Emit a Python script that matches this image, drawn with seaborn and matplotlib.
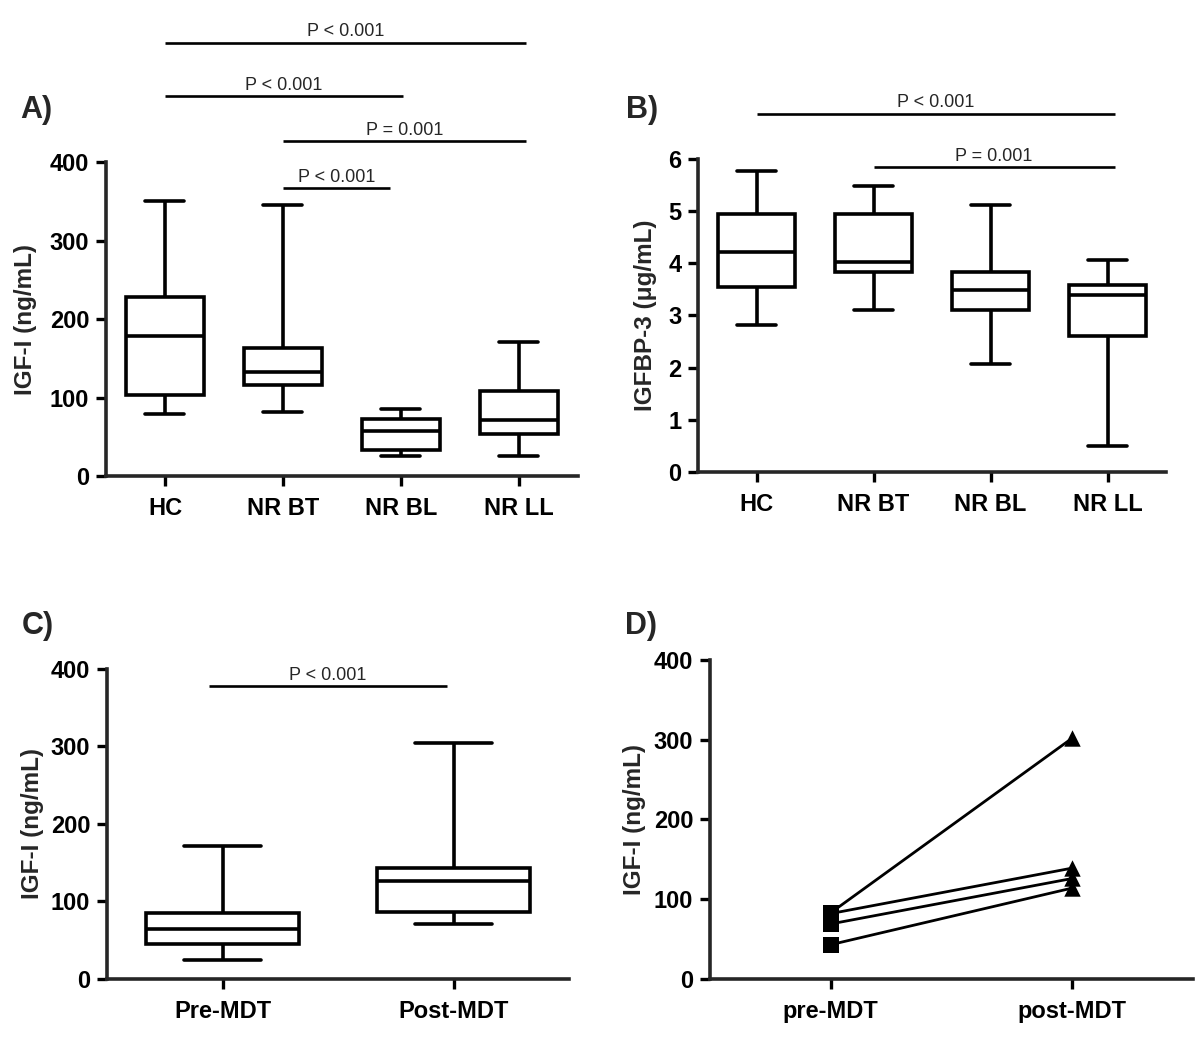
import numpy as np
import pandas as pd
import seaborn as sns
import matplotlib.pyplot as plt

# groups for panels A and B
groups = ["HC", "NR BT", "NR BL", "NR LL"]

# five-number summaries: min, q1, median, q3, max
igf1_hc = [79, 103, 179, 228, 350]
igf1_bt = [81, 116, 133, 163, 345]
igf1_bl = [25, 33, 58, 73, 85]
igf1_ll = [25, 53, 72, 108, 171]

igfbp3_hc = [2.81, 3.54, 4.22, 4.94, 5.77]
igfbp3_bt = [3.11, 3.84, 4.02, 4.95, 5.49]
igfbp3_bl = [2.07, 3.11, 3.48, 3.83, 5.11]
igfbp3_ll = [0.50, 2.60, 3.40, 3.58, 4.06]

# panel C
mdt_groups = ["Pre-MDT", "Post-MDT"]
igf1_pre = [25, 45, 64, 85, 171]
igf1_post = [71, 86, 127, 143, 304]

# panel D, paired patients
pair_times = ["pre-MDT", "post-MDT"]
pair_pre = [83, 82, 69, 43]
pair_post = [302, 139, 126, 114]

# significance bars: (from, to, height, label)
sig_a = [(0, 3.06, 552, "P < 0.001"),
         (0, 2.02, 484, "P < 0.001"),
         (1, 3.06, 427, "P = 0.001"),
         (1, 1.91, 367, "P < 0.001")]
sig_b = [(0, 3.06, 6.87, "P < 0.001"),
         (1, 3.06, 5.85, "P = 0.001")]
sig_c = [(-0.06, 0.97, 378, "P < 0.001")]

sns.set_style("ticks")
plt.rcParams["font.family"] = ["Liberation Sans", "DejaVu Sans"]
plt.rcParams["font.weight"] = "bold"
plt.rcParams["axes.labelweight"] = "bold"

fig = plt.figure(figsize=(12, 10.46), dpi=100)
ax_a = fig.add_axes([0.0883, 0.5449, 0.3933, 0.3002])
ax_b = fig.add_axes([0.5817, 0.5488, 0.3900, 0.2992])
ax_c = fig.add_axes([0.0892, 0.0641, 0.3850, 0.2964])
ax_d = fig.add_axes([0.5917, 0.0641, 0.4025, 0.3050])


def long_table(names, lists, col):
    rows = []
    for name, vals in zip(names, lists):
        for v in vals:
            rows.append({"group": name, col: v})
    return pd.DataFrame(rows)


def boxes(ax, df, col, order):
    sns.boxplot(data=df, x="group", y=col, order=order, color="white",
                linecolor="black", linewidth=2.6, width=0.66, whis=(0, 100),
                showfliers=False, ax=ax)


def style_axis(ax, ymax, step, ylabel, labelpad, ncat):
    sns.despine(ax=ax)
    ax.set_ylim(0, ymax)
    ax.set_xlim(-0.5, ncat - 0.5)
    ax.set_yticks(np.arange(0, ymax + 1, step))
    ax.set_xlabel("")
    ax.set_ylabel(ylabel, fontsize=17.5, fontweight="bold", labelpad=labelpad)
    for sp in ax.spines.values():
        sp.set_linewidth(2.6)
    ax.tick_params(width=2.4, length=7, labelsize=17, colors="black")
    ax.tick_params(axis="x", pad=8)
    ax.tick_params(axis="y", pad=5)


def sig_bars(ax, bars, dy):
    for x0, x1, y, label in bars:
        ax.plot([x0, x1], [y, y], color="black", lw=1.9, clip_on=False,
                solid_capstyle="butt")
        ax.text((x0 + x1) / 2, y + dy, label, ha="center", va="baseline",
                fontsize=13, fontweight="normal")


# A) IGF-I by group
df_a = long_table(groups, [igf1_hc, igf1_bt, igf1_bl, igf1_ll], "igf1")
boxes(ax_a, df_a, "igf1", groups)
style_axis(ax_a, 400, 100, "IGF-I (ng/mL)", 9, 4)
sig_bars(ax_a, sig_a, 8)

# B) IGFBP-3 by group
df_b = long_table(groups, [igfbp3_hc, igfbp3_bt, igfbp3_bl, igfbp3_ll], "igfbp3")
boxes(ax_b, df_b, "igfbp3", groups)
style_axis(ax_b, 6, 1, "IGFBP-3 (\u03bcg/mL)", 8, 4)
sig_bars(ax_b, sig_b, 0.12)

# C) IGF-I before / after MDT
df_c = long_table(mdt_groups, [igf1_pre, igf1_post], "igf1")
boxes(ax_c, df_c, "igf1", mdt_groups)
style_axis(ax_c, 400, 100, "IGF-I (ng/mL)", 5, 2)
sig_bars(ax_c, sig_c, 8)

# D) paired values
df_d = pd.DataFrame({
    "pair": list(range(len(pair_pre))) * 2,
    "time": [pair_times[0]] * len(pair_pre) + [pair_times[1]] * len(pair_post),
    "igf1": pair_pre + pair_post,
})
sns.lineplot(data=df_d, x="time", y="igf1", units="pair", estimator=None,
             color="black", lw=2.0, sort=False, ax=ax_d)
sns.scatterplot(data=df_d[df_d["time"] == pair_times[0]], x="time", y="igf1",
                marker="s", s=120, color="black", linewidth=0, zorder=3, ax=ax_d)
sns.scatterplot(data=df_d[df_d["time"] == pair_times[1]], x="time", y="igf1",
                marker="^", s=140, color="black", linewidth=0, zorder=3, ax=ax_d)
style_axis(ax_d, 400, 100, "IGF-I (ng/mL)", 6, 2)

# panel letters
for letter, x, y in [("A)", 0.017, 0.895), ("B)", 0.522, 0.895),
                     ("C)", 0.018, 0.402), ("D)", 0.521, 0.402)]:
    fig.text(x, y, letter, fontsize=22, fontweight="bold", va="center", ha="left")

fig.savefig("out.png", dpi=100)
